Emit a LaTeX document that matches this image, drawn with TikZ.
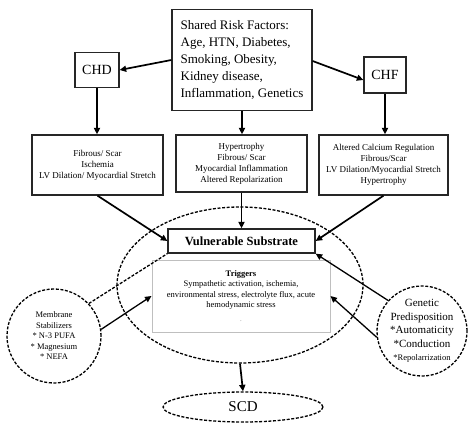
\documentclass[tikz,border=0pt]{standalone}
\usepackage{fontspec}
\setmainfont{Liberation Serif}
\usetikzlibrary{arrows.meta,shapes.geometric}
\begin{document}
\begin{tikzpicture}[x=1pt,y=-1pt,
  boxstyle/.style={draw=black!85,line width=1.3pt,fill=white,inner sep=0pt,align=center},
  arr/.style={line width=1.7pt,-{Triangle[length=6.5pt,width=6pt]}},
  dashline/.style={line width=1.3pt,dash pattern=on 3pt off 1.6pt},
  f13/.style={font=\fontsize{13}{17}\selectfont},
  f9/.style={font=\fontsize{9}{11}\selectfont},
]
\useasboundingbox (0,0) rectangle (468,423);
% big dashed ellipse
\node[dashline,draw,ellipse,minimum width=246,minimum height=156,inner sep=0pt] (ell) at (240,285) {};
% top
\node[boxstyle,f13,align=left,minimum width=140,minimum height=101] (srf) at (242,60)
  {Shared Risk Factors:\\Age, HTN, Diabetes,\\Smoking, Obesity,\\Kidney disease,\\Inflammation, Genetics};
\node[boxstyle,font=\fontsize{14}{17}\selectfont,minimum width=44,minimum height=35] (chd) at (97,70) {CHD};
\node[boxstyle,font=\fontsize{14}{17}\selectfont,minimum width=42,minimum height=36] (chf) at (385,75) {CHF};
% middle row
\node[boxstyle,f9,minimum width=131,minimum height=60] (b1) at (97.5,165)
  {Fibrous/ Scar\\Ischemia\\LV Dilation/ Myocardial Stretch};
\node[boxstyle,f9,minimum width=131,minimum height=57] (b2) at (241.5,163.5)
  {Hypertrophy\\Fibrous/ Scar\\Myocardial Inflammation\\Altered Repolarization};
\node[boxstyle,f9,minimum width=129,minimum height=60] (b3) at (383.5,165)
  {Altered Calcium Regulation\\Fibrous/Scar\\LV Dilation/Myocardial Stretch\\Hypertrophy};
% vulnerable substrate
\node[boxstyle,font=\fontsize{12.5}{15}\bfseries,minimum width=147,minimum height=24] (vs) at (241.5,241) {Vulnerable Substrate};
% triggers
\node[draw=black!25,line width=1pt,fill=white,align=center,inner sep=0pt,minimum width=178,minimum height=72,
  font=\fontsize{8.5}{10.5}\selectfont] (trig) at (241,296)
  {\textbf{Triggers}\\Sympathetic activation, ischemia,\\environmental stress, electrolyte flux, acute\\hemodynamic stress\\[3pt]{\color{black!30}.}};
% circles
\node[dashline,draw,circle,minimum size=94,inner sep=0pt,align=center,font=\fontsize{8.5}{10.5}\selectfont] (mem) at (54,336)
  {Membrane\\Stabilizers\\* N-3 PUFA\\* Magnesium\\* NEFA};
\node[dashline,draw,circle,minimum size=90,inner sep=0pt,align=center,font=\fontsize{11}{13.5}\selectfont] (gen) at (422,331)
  {Genetic\\Predisposition\\*Automaticity\\*Conduction\\{\fontsize{8.5}{10}\selectfont *Repolarrization}};
% SCD
\node[dashline,draw,ellipse,minimum width=160,minimum height=30,inner sep=0pt,fill=white,font=\fontsize{15}{17}\selectfont] (scd) at (243,407) {SCD};
% arrows
\draw[arr] (srf.west |- 0,60) -- (chd.east);
\draw[arr] (srf.east |- 0,61) -- (chf.west |- 0,80);
\draw[arr] (chd.south) -- (b1.north -| chd.south);
\draw[arr] (srf.south) -- (b2.north -| srf.south);
\draw[arr] (chf.south) -- (b3.north -| chf.south);
\draw[arr] (b1.south) -- (vs.west);
\draw[arr] (b3.south) -- (vs.east);
\draw[arr] (b2.south) -- (vs.north);
\draw[arr] (ell.south) -- (scd.north);
\draw[dashline] (mem.43) -- (vs.south west);
\draw[arr,line width=1.3pt] (mem.8) -- (trig.west);
\draw[arr,line width=1.3pt] (gen.138) -- (vs.south east);
\draw[arr,line width=1.3pt] (gen.188) -- (trig.east);
\end{tikzpicture}
\end{document}
